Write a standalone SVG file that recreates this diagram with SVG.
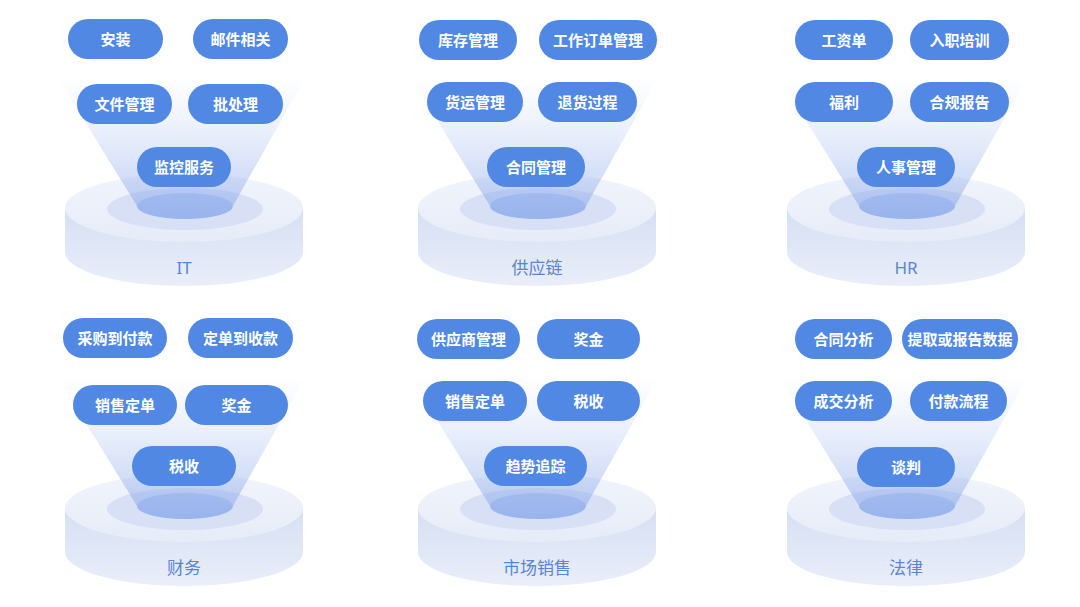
<svg xmlns="http://www.w3.org/2000/svg" xmlns:xlink="http://www.w3.org/1999/xlink" width="1080" height="607" viewBox="0 0 1080 607">
<style>
.pill{fill:#5088e3}
.pt{font-family:"Noto Sans CJK SC","Noto Sans",sans-serif;font-size:15px;font-weight:bold;fill:#ffffff;text-anchor:middle}
.lbl{font-family:"Noto Sans","Noto Sans CJK SC",sans-serif;font-size:17px;fill:#5b84d6;text-anchor:middle}
</style>
<defs>
<linearGradient id="side" x1="0" y1="0" x2="0" y2="1">
<stop offset="0" stop-color="#d6dff3"/>
<stop offset="1" stop-color="#e9eef9"/>
</linearGradient>
<linearGradient id="top" x1="0" y1="0" x2="0" y2="1">
<stop offset="0" stop-color="#f1f4fb"/>
<stop offset="1" stop-color="#e6ecf8"/>
</linearGradient>
<linearGradient id="beam" x1="0" y1="0" x2="0" y2="1">
<stop offset="0" stop-color="#b3c7f1" stop-opacity="0"/>
<stop offset="0.3" stop-color="#a9c0ef" stop-opacity="0.2"/>
<stop offset="1" stop-color="#8aa8eb" stop-opacity="0.6"/>
</linearGradient>
<g id="platform">
<path d="M-119,0 L-119,44 A119,34 0 0 0 119,44 L119,0 Z" fill="url(#side)"/>
<ellipse cx="0" cy="0" rx="119" ry="34" fill="url(#top)"/>
<ellipse cx="1" cy="1" rx="78" ry="21" fill="#d7e0f5"/>
<ellipse cx="1" cy="-2" rx="48" ry="13" fill="#b0c5f1"/>
<path d="M-126,-130 L121,-130 L49,-2 A48,13 0 0 1 -47,-2 Z" fill="url(#beam)"/>
</g>
</defs>
<rect width="1080" height="607" fill="#ffffff"/>

<g id="it">
<use xlink:href="#platform" x="184" y="208"/>
<rect class="pill" x="68" y="19" width="95" height="40" rx="20"/><text class="pt" x="115.5" y="44.5">安装</text>
<rect class="pill" x="193" y="19" width="95" height="40" rx="20"/><text class="pt" x="240.5" y="44.5">邮件相关</text>
<rect class="pill" x="77" y="84" width="95" height="40" rx="20"/><text class="pt" x="124.5" y="109.5">文件管理</text>
<rect class="pill" x="188" y="84" width="95" height="40" rx="20"/><text class="pt" x="235.5" y="109.5">批处理</text>
<rect class="pill" x="137" y="147" width="94" height="40" rx="20"/><text class="pt" x="184" y="172.5">监控服务</text>
<text class="lbl" x="184" y="274">IT</text>
</g>

<g id="supply">
<use xlink:href="#platform" x="537" y="208"/>
<rect class="pill" x="419" y="20" width="98" height="40" rx="20"/><text class="pt" x="468" y="45.5">库存管理</text>
<rect class="pill" x="539" y="20" width="118" height="40" rx="20"/><text class="pt" x="598" y="45.5">工作订单管理</text>
<rect class="pill" x="427" y="82" width="96" height="40" rx="20"/><text class="pt" x="475" y="107.5">货运管理</text>
<rect class="pill" x="538" y="82" width="99" height="40" rx="20"/><text class="pt" x="587.5" y="107.5">退货过程</text>
<rect class="pill" x="487" y="147" width="98" height="40" rx="20"/><text class="pt" x="536" y="172.5">合同管理</text>
<text class="lbl" x="537" y="274">供应链</text>
</g>

<g id="hr">
<use xlink:href="#platform" x="906" y="208"/>
<rect class="pill" x="795" y="20" width="98" height="40" rx="20"/><text class="pt" x="844" y="45.5">工资单</text>
<rect class="pill" x="910" y="20" width="99" height="40" rx="20"/><text class="pt" x="959.5" y="45.5">入职培训</text>
<rect class="pill" x="795" y="82" width="98" height="40" rx="20"/><text class="pt" x="844" y="107.5">福利</text>
<rect class="pill" x="910" y="82" width="99" height="40" rx="20"/><text class="pt" x="959.5" y="107.5">合规报告</text>
<rect class="pill" x="857" y="147" width="98" height="40" rx="20"/><text class="pt" x="906" y="172.5">人事管理</text>
<text class="lbl" x="906" y="274">HR</text>
</g>

<g id="finance">
<use xlink:href="#platform" x="184" y="508"/>
<rect class="pill" x="63" y="318" width="104" height="40" rx="20"/><text class="pt" x="115" y="343.5">采购到付款</text>
<rect class="pill" x="188" y="318" width="105" height="40" rx="20"/><text class="pt" x="240.5" y="343.5">定单到收款</text>
<rect class="pill" x="73" y="385" width="104" height="40" rx="20"/><text class="pt" x="125" y="410.5">销售定单</text>
<rect class="pill" x="185" y="385" width="103" height="40" rx="20"/><text class="pt" x="236.5" y="410.5">奖金</text>
<rect class="pill" x="132" y="446" width="104" height="40" rx="20"/><text class="pt" x="184" y="471.5">税收</text>
<text class="lbl" x="184" y="574">财务</text>
</g>

<g id="marketing">
<use xlink:href="#platform" x="537" y="508"/>
<rect class="pill" x="417" y="319" width="103" height="40" rx="20"/><text class="pt" x="468.5" y="344.5">供应商管理</text>
<rect class="pill" x="537" y="319" width="103" height="40" rx="20"/><text class="pt" x="588.5" y="344.5">奖金</text>
<rect class="pill" x="423" y="381" width="104" height="40" rx="20"/><text class="pt" x="475" y="406.5">销售定单</text>
<rect class="pill" x="537" y="381" width="103" height="40" rx="20"/><text class="pt" x="588.5" y="406.5">税收</text>
<rect class="pill" x="484" y="446" width="103" height="40" rx="20"/><text class="pt" x="535.5" y="471.5">趋势追踪</text>
<text class="lbl" x="537" y="574">市场销售</text>
</g>

<g id="legal">
<use xlink:href="#platform" x="906" y="508"/>
<rect class="pill" x="795" y="319" width="97" height="40" rx="20"/><text class="pt" x="843.5" y="344.5">合同分析</text>
<rect class="pill" x="902" y="319" width="116" height="40" rx="20"/><text class="pt" x="960" y="344.5">提取或报告数据</text>
<rect class="pill" x="795" y="381" width="97" height="40" rx="20"/><text class="pt" x="843.5" y="406.5">成交分析</text>
<rect class="pill" x="910" y="381" width="97" height="40" rx="20"/><text class="pt" x="958.5" y="406.5">付款流程</text>
<rect class="pill" x="857" y="447" width="98" height="40" rx="20"/><text class="pt" x="906" y="472.5">谈判</text>
<text class="lbl" x="906" y="574">法律</text>
</g>

<g id="connectors"/>
</svg>
